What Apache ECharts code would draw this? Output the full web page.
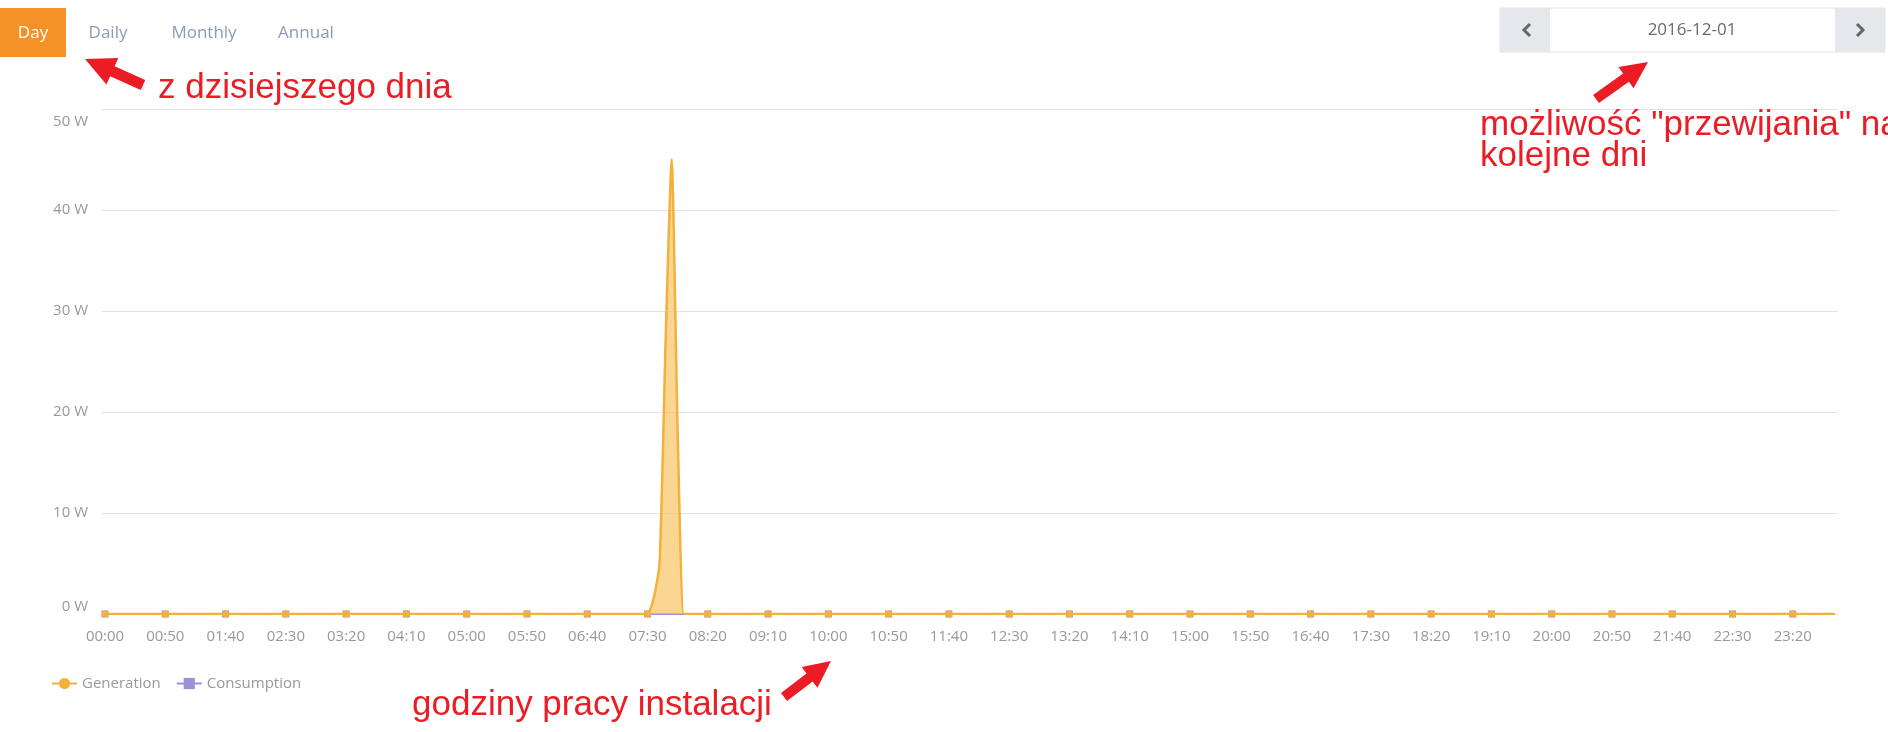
<!DOCTYPE html>
<html>
<head>
<meta charset="utf-8">
<script src="https://cdn.jsdelivr.net/npm/echarts@6/dist/echarts.min.js"></script>
<style>
html,body{margin:0;padding:0;background:#fff;}
#chart{width:1888px;height:732px;}
</style>
</head>
<body>
<div id="chart"></div>
<script>
// ---- data ----
// 5-minute categories for one day, 00:00 .. 23:55
var categories = [];
for (var h = 0; h < 24; h++) {
  for (var m = 0; m < 60; m += 5) {
    categories.push((h < 10 ? '0' : '') + h + ':' + (m < 10 ? '0' : '') + m);
  }
}
// Generation (W), one row per hour (12 x 5 min)
var generation = [
  0,0,0,0,0,0,0,0,0,0,0,0, // 00
  0,0,0,0,0,0,0,0,0,0,0,0, // 01
  0,0,0,0,0,0,0,0,0,0,0,0, // 02
  0,0,0,0,0,0,0,0,0,0,0,0, // 03
  0,0,0,0,0,0,0,0,0,0,0,0, // 04
  0,0,0,0,0,0,0,0,0,0,0,0, // 05
  0,0,0,0,0,0,0,0,0,0,0,0, // 06
  0,0,0,0,0,0,0,1.5,5,27,45,18, // 07
  0,0,0,0,0,0,0,0,0,0,0,0, // 08
  0,0,0,0,0,0,0,0,0,0,0,0, // 09
  0,0,0,0,0,0,0,0,0,0,0,0, // 10
  0,0,0,0,0,0,0,0,0,0,0,0, // 11
  0,0,0,0,0,0,0,0,0,0,0,0, // 12
  0,0,0,0,0,0,0,0,0,0,0,0, // 13
  0,0,0,0,0,0,0,0,0,0,0,0, // 14
  0,0,0,0,0,0,0,0,0,0,0,0, // 15
  0,0,0,0,0,0,0,0,0,0,0,0, // 16
  0,0,0,0,0,0,0,0,0,0,0,0, // 17
  0,0,0,0,0,0,0,0,0,0,0,0, // 18
  0,0,0,0,0,0,0,0,0,0,0,0, // 19
  0,0,0,0,0,0,0,0,0,0,0,0, // 20
  0,0,0,0,0,0,0,0,0,0,0,0, // 21
  0,0,0,0,0,0,0,0,0,0,0,0, // 22
  0,0,0,0,0,0,0,0,0,0,0,0  // 23
];
// Consumption (W)
var consumption = [
  0,0,0,0,0,0,0,0,0,0,0,0, 0,0,0,0,0,0,0,0,0,0,0,0,
  0,0,0,0,0,0,0,0,0,0,0,0, 0,0,0,0,0,0,0,0,0,0,0,0,
  0,0,0,0,0,0,0,0,0,0,0,0, 0,0,0,0,0,0,0,0,0,0,0,0,
  0,0,0,0,0,0,0,0,0,0,0,0, 0,0,0,0,0,0,0,0,0,0,0,0,
  0,0,0,0,0,0,0,0,0,0,0,0, 0,0,0,0,0,0,0,0,0,0,0,0,
  0,0,0,0,0,0,0,0,0,0,0,0, 0,0,0,0,0,0,0,0,0,0,0,0,
  0,0,0,0,0,0,0,0,0,0,0,0, 0,0,0,0,0,0,0,0,0,0,0,0,
  0,0,0,0,0,0,0,0,0,0,0,0, 0,0,0,0,0,0,0,0,0,0,0,0,
  0,0,0,0,0,0,0,0,0,0,0,0, 0,0,0,0,0,0,0,0,0,0,0,0,
  0,0,0,0,0,0,0,0,0,0,0,0, 0,0,0,0,0,0,0,0,0,0,0,0,
  0,0,0,0,0,0,0,0,0,0,0,0, 0,0,0,0,0,0,0,0,0,0,0,0,
  0,0,0,0,0,0,0,0,0,0,0,0, 0,0,0,0,0,0,0,0,0,0,0,0
];
var seriesNames = ['Generation', 'Consumption'];
var yTicks = { min: 0, max: 50, interval: 10, unit: ' W' };
var tabs = ['Day', 'Daily', 'Monthly', 'Annual'];
var dateText = '2016-12-01';
var notes = ['z dzisiejszego dnia', 'możliwość "przewijania" na', 'kolejne dni', 'godziny pracy instalacji'];

// ---- helpers for annotation arrows ----
function arrow(x1, y1, x2, y2, w, hl, hw, color) {
  var dx = x2 - x1, dy = y2 - y1, L = Math.sqrt(dx*dx + dy*dy);
  var ux = dx / L, uy = dy / L, nx = -uy, ny = ux;
  var bx = x2 - ux * hl, by = y2 - uy * hl;
  return {
    type: 'polygon', silent: true, z: 100,
    shape: { points: [
      [x1 + nx*w/2, y1 + ny*w/2],
      [bx + nx*w/2, by + ny*w/2],
      [bx + nx*hw/2, by + ny*hw/2],
      [x2, y2],
      [bx - nx*hw/2, by - ny*hw/2],
      [bx - nx*w/2, by - ny*w/2],
      [x1 - nx*w/2, y1 - ny*w/2]
    ]},
    style: { fill: color }
  };
}

var RED = '#ec1c24';
var UIFONT = '"Open Sans", sans-serif';
var NOTEFONT = '35px "Liberation Sans", Arial, sans-serif';
var tabX = [33, 108, 204, 306];

var graphics = [
  { type: 'rect', shape: { x: 0, y: 8, width: 66, height: 49 }, style: { fill: '#f39227' } },
  // date picker
  { type: 'rect', shape: { x: 1500, y: 8, width: 385, height: 44 }, style: { fill: '#ffffff', stroke: '#e3e4e7', lineWidth: 1 } },
  { type: 'rect', shape: { x: 1500, y: 8, width: 50, height: 44 }, style: { fill: '#e6e7ea' } },
  { type: 'rect', shape: { x: 1835, y: 8, width: 50, height: 44 }, style: { fill: '#e6e7ea' } },
  { type: 'polyline', shape: { points: [[1530, 24], [1524, 30], [1530, 36]] }, style: { stroke: '#666', lineWidth: 3, fill: null } },
  { type: 'polyline', shape: { points: [[1857, 24], [1863, 30], [1857, 36]] }, style: { stroke: '#666', lineWidth: 3, fill: null } },
  { type: 'text', x: 1692, y: 30, style: { text: dateText, font: '17px ' + UIFONT, fill: '#6b6b6b', align: 'center', verticalAlign: 'middle' } },
  // red annotations
  { type: 'text', x: 158, y: 88, z: 100, style: { text: notes[0], font: NOTEFONT, fill: RED, align: 'left', verticalAlign: 'middle' } },
  { type: 'text', x: 1480, y: 125, z: 100, style: { text: notes[1], font: NOTEFONT, fill: RED, align: 'left', verticalAlign: 'middle' } },
  { type: 'text', x: 1480, y: 156, z: 100, style: { text: notes[2], font: NOTEFONT, fill: RED, align: 'left', verticalAlign: 'middle' } },
  { type: 'text', x: 412, y: 705, z: 100, style: { text: notes[3], font: NOTEFONT, fill: RED, align: 'left', verticalAlign: 'middle' } },
  arrow(143, 85, 85, 59, 11, 30, 29, RED),
  arrow(1596, 99, 1648, 62, 10, 27, 26, RED),
  arrow(784, 697, 831, 661, 10, 27, 26, RED)
];
tabs.forEach(function (t, i) {
  graphics.push({ type: 'text', x: tabX[i], y: 33, style: { text: t, font: '17px ' + UIFONT, fill: i === 0 ? '#ffffff' : '#8c9bb5', align: 'center', verticalAlign: 'middle' } });
});

var chart = echarts.init(document.getElementById('chart'), null, { renderer: 'canvas' });
chart.setOption({
  backgroundColor: '#ffffff',
  animation: false,
  textStyle: { fontFamily: UIFONT },
  grid: { left: 102, top: 109, width: 1736, height: 505, containLabel: false, outerBoundsMode: 'none' },
  legend: {
    left: 46, top: 671, itemWidth: 25, itemHeight: 14, itemGap: 15,
    textStyle: { color: '#999', fontSize: 15, fontFamily: UIFONT },
    data: seriesNames
  },
  xAxis: {
    type: 'category', data: categories, boundaryGap: true,
    axisLine: { show: false }, axisTick: { show: false },
    axisLabel: { interval: 9, color: '#999', fontSize: 15, margin: 15, fontFamily: UIFONT },
    splitLine: { show: false }
  },
  yAxis: {
    type: 'value', min: yTicks.min, max: yTicks.max, interval: yTicks.interval,
    axisLine: { show: false }, axisTick: { show: false },
    axisLabel: { color: '#999', fontSize: 15, margin: 14, fontFamily: UIFONT,
      formatter: function (v) { return v === yTicks.max ? '{t|' + v + yTicks.unit + '}' : v + yTicks.unit; },
      rich: { t: { color: '#999', fontSize: 15, fontFamily: UIFONT, padding: [5, 0, 0, 0] } },
      verticalAlignMaxLabel: 'top', verticalAlignMinLabel: 'bottom' },
    splitLine: { lineStyle: { color: '#e3e3e3', width: 1 } }
  },
  series: [
    {
      name: seriesNames[0], type: 'line', data: generation, z: 3,
      smooth: 0.2, showAllSymbol: true, symbol: 'circle',
      symbolSize: function (v, p) { return p.dataIndex % 10 === 0 ? 7 : 0; },
      itemStyle: { color: '#f2b13b' },
      lineStyle: { color: '#f2b13b', width: 2.5 },
      areaStyle: { color: '#f9c564', opacity: 0.7 }
    },
    {
      name: seriesNames[1], type: 'line', data: consumption, z: 2,
      smooth: false, showAllSymbol: true, symbol: 'rect',
      symbolSize: function (v, p) { return p.dataIndex % 10 === 0 ? 7 : 0; },
      itemStyle: { color: '#9d90d8' },
      lineStyle: { color: '#9d90d8', width: 2 }
    }
  ],
  graphic: graphics
});
</script>
</body>
</html>
